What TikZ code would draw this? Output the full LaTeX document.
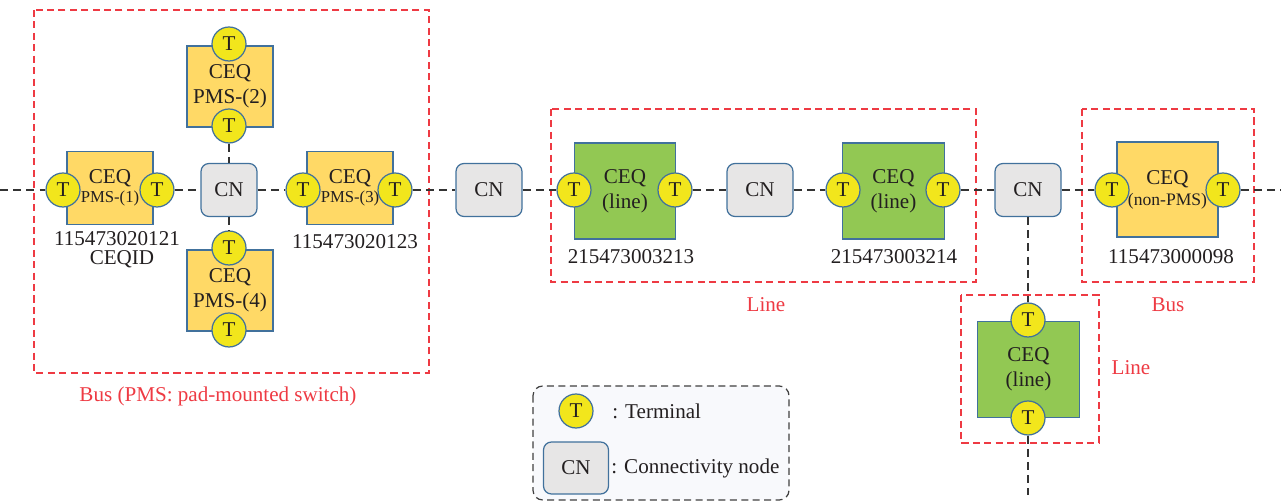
\documentclass[tikz,border=0pt]{standalone}
\usepackage{fontspec}
\setmainfont{Liberation Serif}

\definecolor{termyellow}{HTML}{F2E61C}
\definecolor{edgeblue}{HTML}{41719C}
\definecolor{pmsorange}{HTML}{FFD966}
\definecolor{linegreen}{HTML}{92C853}
\definecolor{cngray}{HTML}{E7E6E6}
\definecolor{grpred}{HTML}{EE3A43}
\definecolor{inkdark}{HTML}{231F20}
\definecolor{legendbg}{HTML}{F8F9FC}

\begin{document}
\begin{tikzpicture}[x=0.02cm, y=-0.02cm, font=\fontsize{12}{14}\selectfont, text=inkdark,
  term/.style={circle, draw=edgeblue, fill=termyellow, minimum size=0.68cm, inner sep=0pt, line width=0.7pt},
  cnbox/.style={rectangle, rounded corners=4.5pt, draw=edgeblue, fill=cngray, minimum width=1.32cm, minimum height=1.06cm, line width=0.7pt},
  pms/.style={rectangle, draw=edgeblue, fill=pmsorange, align=center, inner sep=0pt, line width=0.7pt},
  lineq/.style={rectangle, draw=edgeblue, fill=linegreen, align=center, inner sep=0pt, line width=0.7pt, minimum width=2.03cm, minimum height=1.92cm},
  wire/.style={draw=black!80, dash pattern=on 4.5pt off 3pt, line width=0.7pt},
  grp/.style={draw=grpred, dash pattern=on 4pt off 2.5pt, line width=0.7pt},
  grplbl/.style={text=grpred},
  idlbl/.style={inner sep=0pt},
  tinyfont/.style={font=\fontsize{9.5}{11}\selectfont}
]
\useasboundingbox (0,0) rectangle (1281,502);

% groups (bus / line)
\draw[grp] (34,10) rectangle (429,373);
\draw[grp] (551,109) rectangle (976,282);
\draw[grp] (1082,109) rectangle (1254,282);
\draw[grp] (961,295) rectangle (1099,443);
\node[grplbl] (buspms) at (218,396) {Bus (PMS: pad-mounted switch)};
\node[grplbl] (lineA) at (766,305) {Line};
\node[grplbl] (busB) at (1168,305) {Bus};
\node[grplbl] (lineB) at (1131,368) {Line};

% pad-mounted switch
\node[pms, minimum width=1.72cm, minimum height=1.46cm] (pms1) at (110,188)
  {CEQ\\[-3pt]{\fontsize{9.5}{11}\selectfont PMS-(1)}};
\node[pms, minimum width=1.72cm, minimum height=1.46cm] (pms3) at (350,188)
  {CEQ\\[-3pt]{\fontsize{9.5}{11}\selectfont PMS-(3)}};
\node[pms, minimum width=1.72cm, minimum height=1.62cm] (pms2) at (230,86.5) {CEQ\\PMS-(2)};
\node[pms, minimum width=1.72cm, minimum height=1.62cm] (pms4) at (230,290.5) {CEQ\\PMS-(4)};

% line segments + non-PMS bus
\node[lineq] (ln1) at (625,191) {CEQ\\(line)};
\node[lineq] (ln2) at (893.5,191) {CEQ\\(line)};
\node[lineq] (ln3) at (1028.5,369.5) {CEQ\\(line)};
\node[pms, minimum width=2.02cm, minimum height=1.9cm] (nonpms) at (1167.5,189.5)
  {CEQ\\[-2pt]{\fontsize{10}{11}\selectfont (non-PMS)}};

% terminals
\node[term] (pms1w) at (63,190) {T};
\node[term] (pms1e) at (157,190) {T};
\node[term] (pms2n) at (229,44) {T};
\node[term] (pms2s) at (229,126) {T};
\node[term] (pms4n) at (229,248) {T};
\node[term] (pms4s) at (229,330) {T};
\node[term] (pms3w) at (303,190) {T};
\node[term] (pms3e) at (395,190) {T};
\node[term] (ln1w) at (574,190) {T};
\node[term] (ln1e) at (675,190) {T};
\node[term] (ln2w) at (843,190) {T};
\node[term] (ln2e) at (943,190) {T};
\node[term] (npw) at (1112,190) {T};
\node[term] (npe) at (1223,190) {T};
\node[term] (ln3n) at (1028,320) {T};
\node[term] (ln3s) at (1028,418) {T};

% connectivity nodes
\node[cnbox, minimum width=1.12cm] (cn1) at (229,190) {CN};
\node[cnbox] (cn2) at (489,190) {CN};
\node[cnbox] (cn3) at (760,190) {CN};
\node[cnbox] (cn4) at (1028,190) {CN};

% CEQ ids
\node[idlbl] (id1) at (117,239) {115473020121};
\node[idlbl] (id1b) at (122,259) {CEQID};
\node[idlbl] (id3) at (355,242) {115473020123};
\node[idlbl] (idln1) at (631,257) {215473003213};
\node[idlbl] (idln2) at (894,257) {215473003214};
\node[idlbl] (idnp) at (1171,257) {115473000098};

% wiring
\coordinate (wl) at (0,190);
\coordinate (wr) at (1281,190);
\coordinate (wd) at (1028,495);
\draw[wire] (wl) -- (pms1w);
\draw[wire] (pms1e) -- (cn1);
\draw[wire] (cn1) -- (pms3w);
\draw[wire] (pms2s) -- (cn1);
\draw[wire] (cn1) -- (pms4n);
\draw[wire] (pms3e) -- (cn2);
\draw[wire] (cn2) -- (ln1w);
\draw[wire] (ln1e) -- (cn3);
\draw[wire] (cn3) -- (ln2w);
\draw[wire] (ln2e) -- (cn4);
\draw[wire] (cn4) -- (npw);
\draw[wire] (npe) -- (wr);
\draw[wire] (cn4) -- (ln3n);
\draw[wire] (ln3s) -- (wd);

% legend
\draw[draw=black!75, fill=legendbg, dash pattern=on 4pt off 2.5pt, line width=0.7pt, rounded corners=5.5pt]
  (533,386) rectangle (789,500);
\node[term] (legT) at (576,411) {T};
\node[anchor=west, inner sep=0pt] (legTtxt) at (612,411) {: Terminal};
\node[cnbox, minimum width=1.3cm, minimum height=1.04cm] (legCN) at (576,468) {CN};
\node[anchor=west, inner sep=0pt] (legCNtxt) at (611,468) {: Connectivity node};
\end{tikzpicture}
\end{document}
